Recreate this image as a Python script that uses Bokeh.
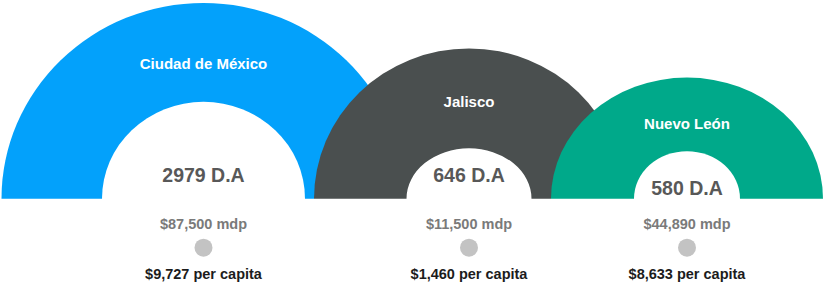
from bokeh.plotting import figure
from bokeh.models import Range1d, ColumnDataSource
from bokeh.core.properties import value
from bokeh.embed import file_html
from bokeh.resources import INLINE

# ---- data ----
states = ["Ciudad de México", "Jalisco", "Nuevo León"]
da = [2979, 646, 580]
mdp = [87500, 11500, 44890]
per_capita = [9727, 1460, 8633]
colors = ["#03A1FB", "#4A4F4F", "#00A98A"]

# ---- layout (pixel-like data units) ----
cx = [215, 480.5, 698.5]
baseline = 212.5
outer_rx = [202, 155, 136]
outer_ry = [202, 155, 125]
inner_rx = [101.5, 62.5, 53]
inner_ry = [100, 52, 49]
name_y = [73, 112, 135]
da_y = [188, 188, 201]
mdp_y = 239
dot_y = 263
pc_y = 290

da_labels = [f"{v} D.A" for v in da]
mdp_labels = [f"${v:,} mdp" for v in mdp]
pc_labels = [f"${v:,} per capita" for v in per_capita]

src = ColumnDataSource(dict(
    cx=cx, state=states, name_y=name_y, da_y=da_y, da_lab=da_labels,
    mdp_y=[mdp_y] * 3, dot_y=[dot_y] * 3, pc_y=[pc_y] * 3,
    mdp_lab=mdp_labels, pc_lab=pc_labels,
))

p = figure(width=823, height=283, output_backend="svg", toolbar_location=None,
           x_range=Range1d(12, 835), y_range=Range1d(300, 8),
           min_border=0, outline_line_color=None)
p.axis.visible = False
p.grid.visible = False
p.background_fill_color = "white"
p.border_fill_color = "white"

# half-rings: outer ellipse then white inner ellipse, in order
for i in range(3):
    p.ellipse(x=cx[i], y=baseline, width=2 * outer_rx[i], height=2 * outer_ry[i],
              fill_color=colors[i], line_color=None)
    p.ellipse(x=cx[i], y=baseline, width=2 * inner_rx[i], height=2 * inner_ry[i],
              fill_color="white", line_color=None)

# mask lower halves
p.quad(left=-100, right=1000, top=baseline, bottom=1000, fill_color="white", line_color=None)

font = value("Liberation Sans")
p.text(x="cx", y="name_y", text="state", source=src, text_font=font, text_font_style="bold",
       text_font_size="15px", text_color="white", text_align="center", text_baseline="middle")
p.text(x="cx", y="da_y", text="da_lab", source=src, text_font=font, text_font_style="bold",
       text_font_size="19.5px", text_color="#585858", text_align="center", text_baseline="middle")
p.text(x="cx", y="mdp_y", text="mdp_lab", source=src, text_font=font, text_font_style="bold",
       text_font_size="14.5px", text_color="#7a7a7a", text_align="center", text_baseline="middle")
p.scatter(x="cx", y="dot_y", source=src, size=18, fill_color="#c3c3c3", line_color=None)
p.text(x="cx", y="pc_y", text="pc_lab", source=src, text_font=font, text_font_style="bold",
       text_font_size="14.5px", text_color="#1c1c1c", text_align="center", text_baseline="middle")

open("out.html", "w").write(file_html(p, INLINE))
